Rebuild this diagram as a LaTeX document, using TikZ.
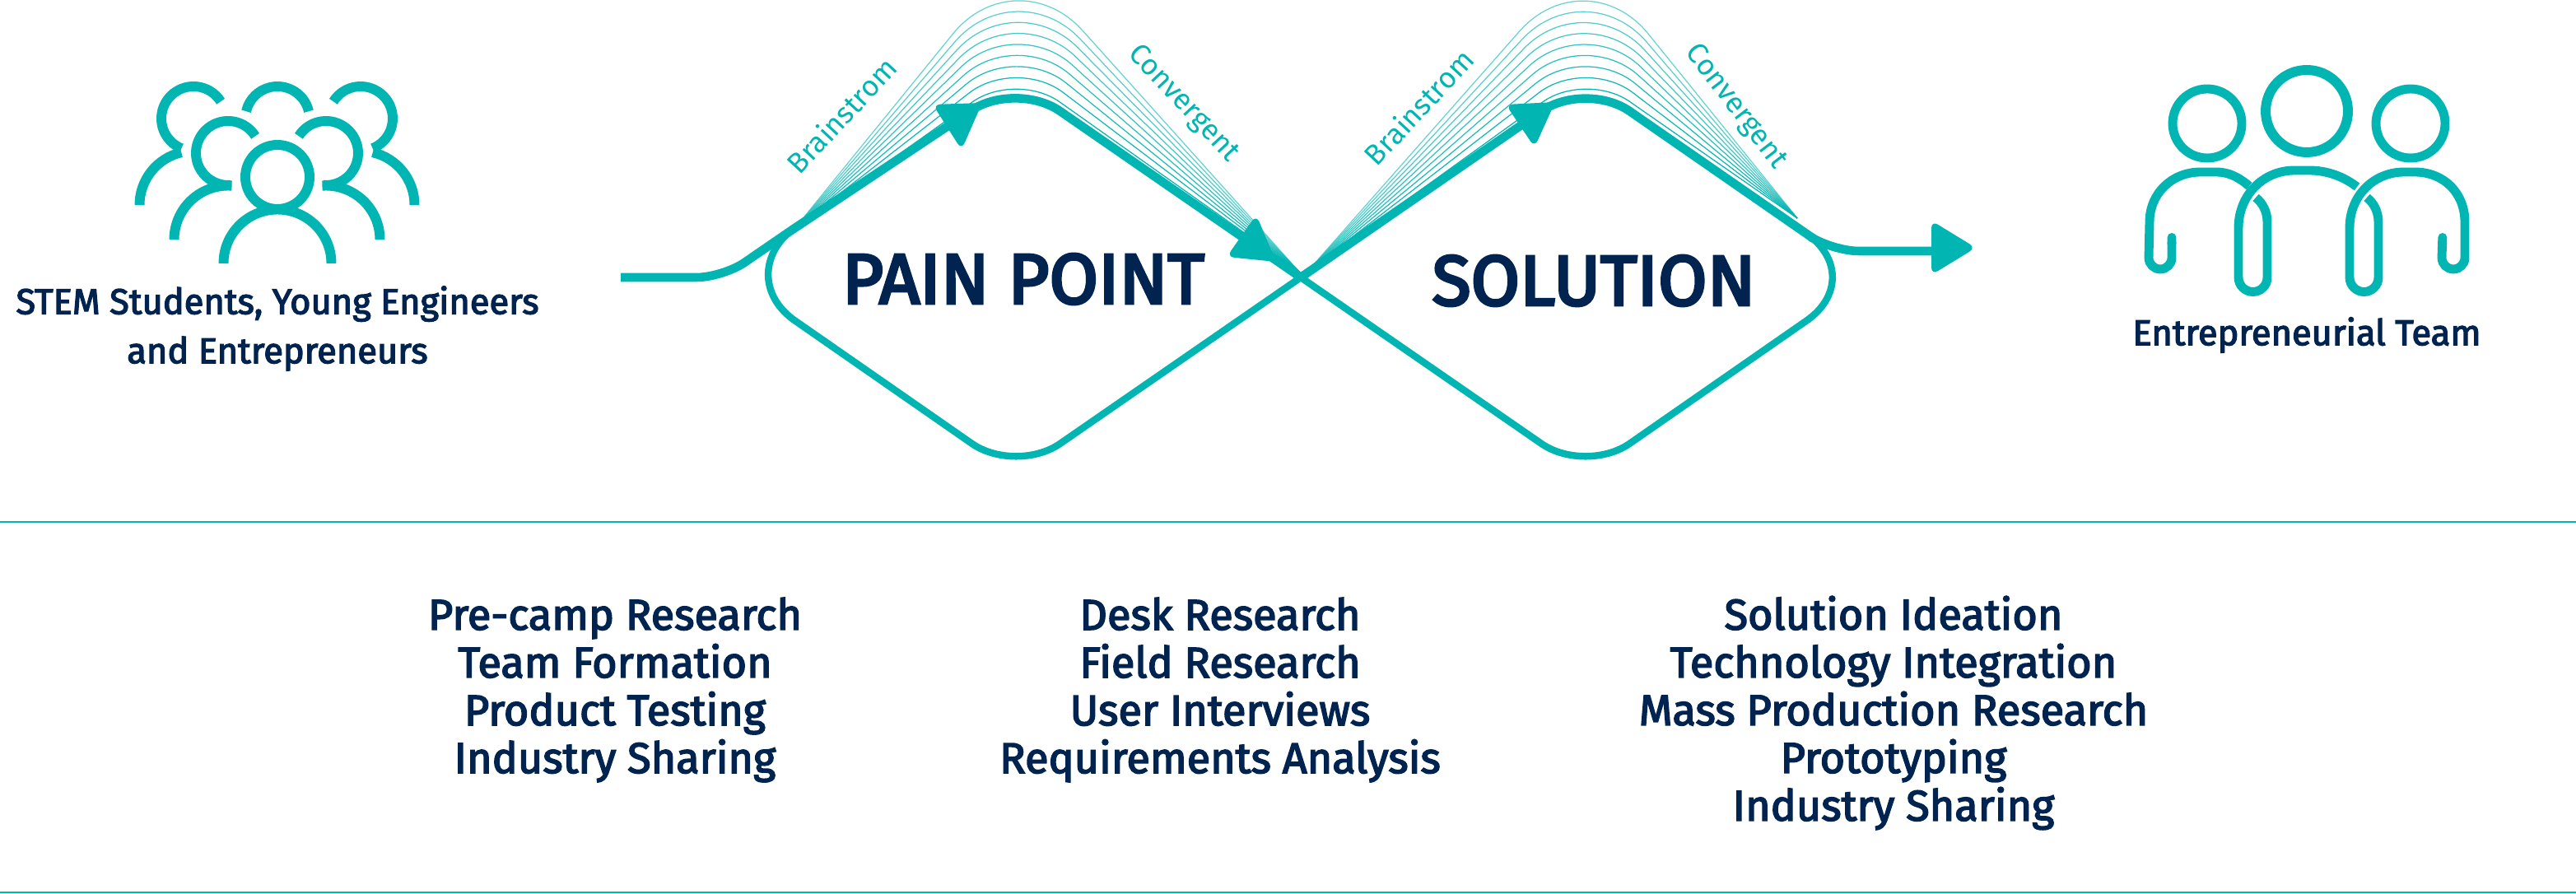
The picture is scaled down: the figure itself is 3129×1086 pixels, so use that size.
\documentclass[tikz,border=0pt]{standalone}
\usepackage{fontspec}
\setmainfont{Fira Sans}
\newfontfamily\midfont{Fira Sans}[FakeBold=3]
\newfontfamily\stagefont{Fira Sans}[FakeBold=4]
\usetikzlibrary{arrows.meta}
\definecolor{teal1}{HTML}{00B5B2}
\definecolor{navy1}{HTML}{00234F}
\tikzset{
    thinline/.style={draw=teal1, line width=2.4pt},
    thickline/.style={draw=teal1, line width=3pt},
    fanline/.style={draw=teal1, line width=0.35pt},
    tiphead/.style={fill=teal1},
    iconline/.style={draw=teal1, line width=3.4pt},
    teamline/.style={draw=teal1, line width=3.1pt},
    tasktext/.style={text=navy1, align=center, font=\midfont\fontsize{14.85}{16.5}\selectfont},
    grouptext/.style={text=navy1, align=center, font=\midfont\fontsize{12.35}{17}\selectfont},
    stagetext/.style={text=navy1, font=\stagefont\fontsize{24.5}{28}\selectfont},
    fantext/.style={text=teal1, font=\fontsize{10}{12}\selectfont},
    rule/.style={draw=teal1, line width=0.6pt}
}
\begin{document}
\begin{tikzpicture}[x=0.01cm, y=-0.01cm]
\useasboundingbox (0,0) rectangle (3129,1086);
% main loop
\coordinate (start) at (754,337);
\coordinate (bend) at (878,337);
\coordinate (topL) at (1234,98);
\coordinate (leftL) at (890,337);
\coordinate (botL) at (1234,576);
\coordinate (cross) at (1580,337);
\coordinate (topR) at (1926,98);
\coordinate (rightR) at (2270,337);
\coordinate (botR) at (1926,576);
\coordinate (joinL) at (961,280);
\coordinate (joinR) at (2203,290);
\coordinate (exit) at (2226,305);
\coordinate (finish) at (2356,305);
% fans of thin curves
\foreach \k in {0,...,8} {
    \pgfmathsetmacro{\apexy}{-53+17.4*\k}
    \pgfmathsetmacro{\radius}{1.21-0.07*\k}
    \pgfmathsetmacro{\fade}{0.6+0.05*\k}
    \draw[fanline, draw opacity=\fade, rounded corners=\radius cm] (965,278) -- (1234,\apexy) -- (1578,330);
    \draw[fanline, draw opacity=\fade, rounded corners=\radius cm] (1588,330) -- (1926,\apexy) -- (2183,265);
}
% thin lower part of the two diamonds
\draw[thinline] (joinL) [rounded corners=0.92cm] -- (leftL) [rounded corners=0.65cm] -- (botL) [sharp corners] -- (cross)
    [rounded corners=0.65cm] -- (botR) [rounded corners=0.92cm] -- (rightR) [sharp corners] -- (joinR);
% thick upper part
\draw[thickline, rounded corners=0.32cm] (start) -- (bend) -- (joinL);
\draw[thickline, rounded corners=0.65cm] (joinL) -- (topL) -- (cross);
\draw[thickline, rounded corners=0.65cm] (cross) -- (topR) -- (joinR);
\draw[thickline, rounded corners=0.32cm] (joinR) -- (exit) -- (finish);
% arrow heads
\fill[tiphead] (1193,125) [rounded corners=0.09cm] -- (1133,127) -- (1168,182) [sharp corners] -- cycle;
\fill[tiphead] (1550,318) [rounded corners=0.09cm] -- (1526,261) -- (1490,312) [sharp corners] -- cycle;
\fill[tiphead] (1889,124) [rounded corners=0.09cm] -- (1829,127) -- (1864,179) [sharp corners] -- cycle;
\fill[tiphead, rounded corners=0.09cm] (2346,301) -- (2346,268) -- (2400,301) -- (2346,334) -- cycle;
% labels of the fans
\node[fantext, rotate=47] (brainL) at (1022,140) {Brainstrom};
\node[fantext, rotate=-47] (convL) at (1437,126) {Convergent};
\node[fantext, rotate=47] (brainR) at (1723,130) {Brainstrom};
\node[fantext, rotate=-52.6] (convR) at (2108,130) {Convergent};
\node[stagetext] (painpoint) at (1243,339) {PAIN POINT};
\node[stagetext] (solution) at (1936,341) {SOLUTION};
% group of students
\draw[iconline] (337,215) circle (39);
\draw[iconline] (337,320) ++(180:65.5) arc (180:360:65.5);
\foreach \cx/\cy/\sgn in {277/186/1, 396/186/-1} {
    \begin{scope}[shift={(\cx,\cy)}, xscale=\sgn]
        \draw[iconline] (328:39) arc (328:85:39);
        \draw[iconline] (0,105) ++(274:65.5) arc (274:180:65.5);
    \end{scope}
}
\foreach \cx/\cy/\sgn in {235/144/1, 438/144/-1} {
    \begin{scope}[shift={(\cx,\cy)}, xscale=\sgn]
        \draw[iconline] (328:39) arc (328:112:39);
        \draw[iconline] (0,105) ++(257:65.5) arc (257:180:65.5);
    \end{scope}
}
\draw[iconline] (337,144) ++(-13:39) arc (-13:-167:39);
\node[grouptext] (students) at (337,399) {STEM Students, Young Engineers\\and Entrepreneurs};
% the team
\draw[iconline] (2802,135) circle (50);
\draw[teamline] (2681,150) circle (42);
\draw[teamline] (2928,150) circle (42);
\draw[teamline, {Round Cap}-] (2638,283) -- (2638,313) arc (0:180:14) -- (2611,270)
    .. controls (2611,235) and (2638,209) .. (2673,209) -- (2692,209) .. controls (2708,209) and (2720,216) .. (2732,226);
\draw[teamline] (2740,240) .. controls (2749,247) and (2754,258) .. (2754,270) -- (2754,337) arc (0:180:17.5)
    -- (2719,277) .. controls (2719,237) and (2749,207) .. (2787,207) -- (2805,207) .. controls (2826,207) and (2846,214) .. (2863,227);
\draw[teamline, -{Round Cap}] (2875,240) .. controls (2884,247) and (2889,258) .. (2889,270) -- (2889,337) arc (0:180:17.5)
    -- (2854,277) .. controls (2854,237) and (2884,209) .. (2920,209) -- (2933,209)
    .. controls (2969,209) and (2994,235) .. (2994,270) -- (2994,313) arc (0:180:14) -- (2967,283);
\node[grouptext] (team) at (2802,407) {Entrepreneurial Team};
% lower band
\draw[rule] (0,634) -- (3129,634);
\draw[rule] (0,1084) -- (3129,1084);
\node[tasktext] (camp) at (747,838) {Pre-camp Research\\Team Formation\\Product Testing\\Industry Sharing};
\node[tasktext] (desk) at (1482,838) {Desk Research\\Field Research\\User Interviews\\Requirements Analysis};
\node[tasktext] (ideas) at (2300,866) {Solution Ideation\\Technology Integration\\Mass Production Research\\Prototyping\\Industry Sharing};
\end{tikzpicture}
\end{document}
